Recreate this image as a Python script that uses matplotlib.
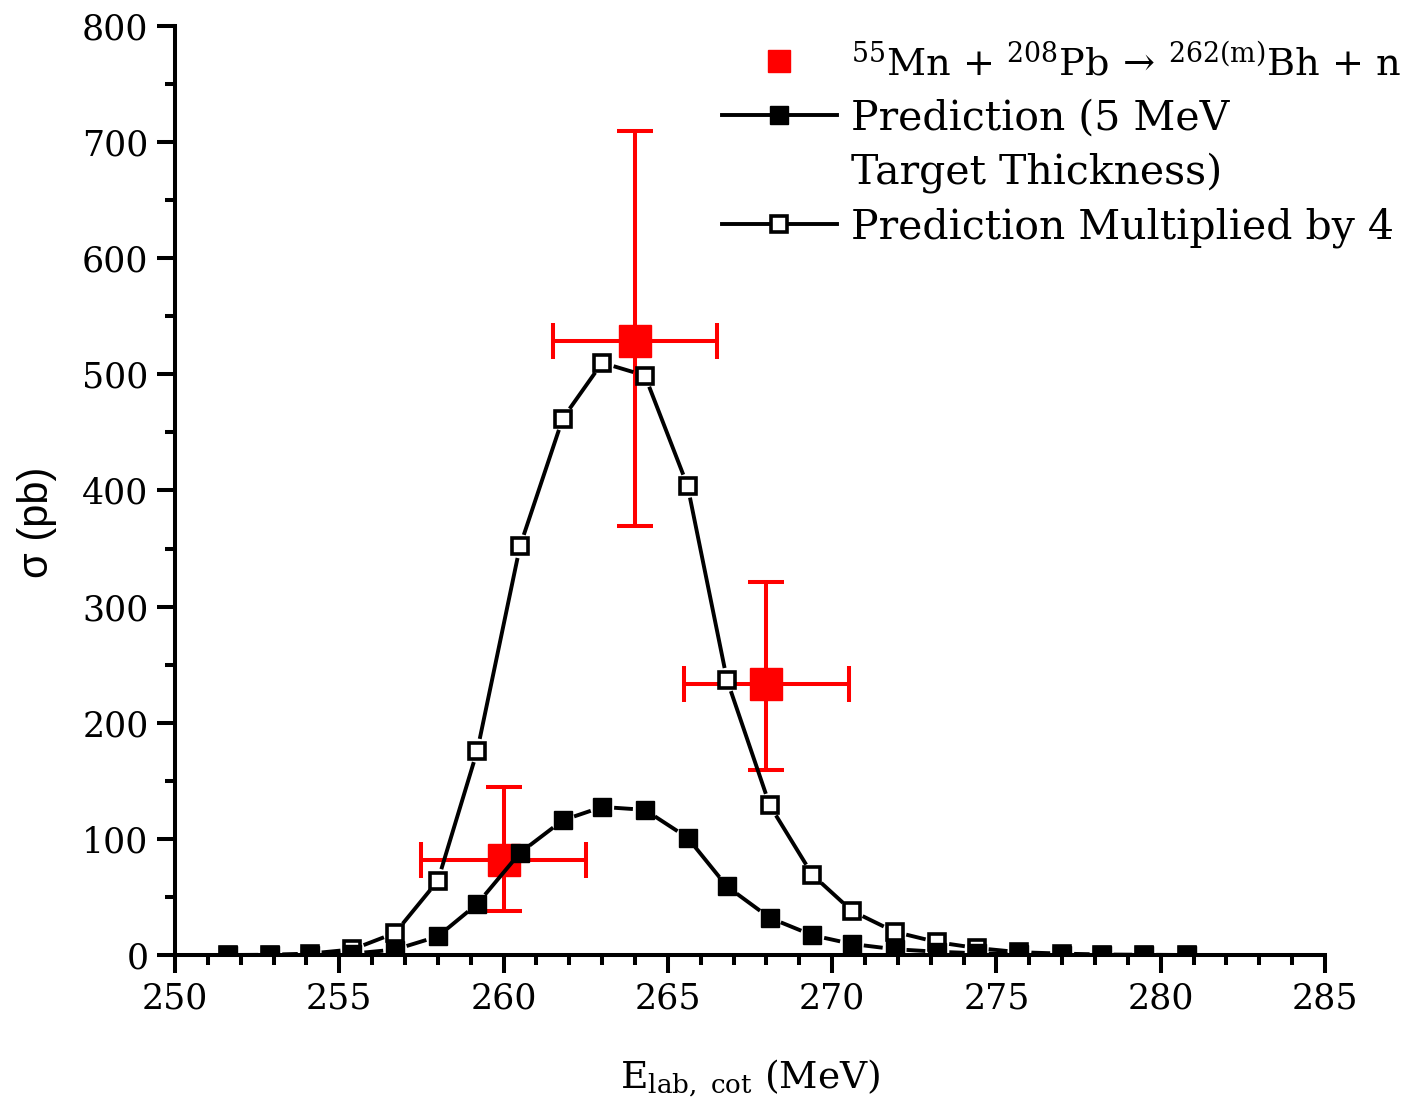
import numpy as np
import matplotlib
matplotlib.use('Agg')
import matplotlib.pyplot as plt
from matplotlib.collections import LineCollection
from matplotlib.lines import Line2D

plt.rcParams['font.family'] = ['DejaVu Serif']
plt.rcParams['mathtext.fontset'] = 'dejavuserif'

# measured cross sections (pb) with asymmetric errors
E_meas = [260.0, 264.0, 268.0]
sig_meas = [82, 529, 233]
sig_err_lo = [44, 160, 74]
sig_err_hi = [63, 181, 88]
E_err = [2.5, 2.5, 2.5]

# predicted excitation function, 5 MeV target thickness
E_pred = [251.6, 252.9, 254.1, 255.4, 256.7, 258.0, 259.2, 260.5, 261.8, 263.0,
          264.3, 265.6, 266.8, 268.1, 269.4, 270.6, 271.9, 273.2, 274.4, 275.7,
          277.0, 278.2, 279.5, 280.8]
sig_pred = [0.0, 0.05, 0.3, 1.2, 4.7, 16, 44, 88, 116, 127.5,
            125, 101, 59, 32, 17, 9.5, 5.0, 2.8, 1.5, 0.6,
            0.3, 0.1, 0.05, 0.0]
# same prediction scaled by 4
sig_pred4 = [0.0, 0.2, 1.2, 4.8, 19, 64, 176, 352, 462, 510,
             499, 404, 237, 129, 69, 38, 20, 11, 6, 2.4,
             1.2, 0.4, 0.2, 0.0]

LW = 2.8

fig = plt.figure(figsize=(14.09, 11.09), dpi=100)
ax = fig.add_axes([175/1409, 1-955/1109, 1150/1409, 929/1109])
ax.set_xlim(250, 285)
ax.set_ylim(0, 800)


def gapped(xs, ys, gap, **kw):
    # connect points with segments that stop short of each marker
    pts = ax.transData.transform(np.column_stack([xs, ys]))
    inv = ax.transData.inverted()
    segs = []
    for p0, p1 in zip(pts[:-1], pts[1:]):
        d = p1 - p0
        L = np.hypot(*d)
        if L <= 2*gap:
            continue
        u = d/L
        segs.append(inv.transform(np.array([p0 + u*gap, p1 - u*gap])))
    ax.add_collection(LineCollection(segs, **kw))


ax.errorbar(E_meas, sig_meas, xerr=E_err, yerr=[sig_err_lo, sig_err_hi],
            fmt='s', color='red', ms=23, mec='red', elinewidth=2.9,
            capsize=13, capthick=2.9, zorder=2)

gapped(E_pred, sig_pred4, 12, colors='black', linewidths=LW, zorder=3)
ax.plot(E_pred, sig_pred4, ls='none', marker='s', ms=11, mfc='white',
        mec='black', mew=2.6, zorder=4)
gapped(E_pred, sig_pred, 12, colors='black', linewidths=LW, zorder=5)
ax.plot(E_pred, sig_pred, ls='none', marker='s', ms=13, color='black',
        zorder=6)

for s in ['top', 'right']:
    ax.spines[s].set_visible(False)
for s in ['left', 'bottom']:
    ax.spines[s].set_linewidth(2.9)

ax.set_xticks(np.arange(250, 286, 5))
ax.set_xticks(np.arange(250, 286, 1), minor=True)
ax.set_yticks(np.arange(0, 801, 100))
ax.set_yticks(np.arange(0, 801, 50), minor=True)
ax.tick_params(which='major', length=13, width=2.9, labelsize=25, pad=6)
ax.tick_params(which='minor', length=7, width=2.9)

ax.set_xlabel(r'E$_{\mathrm{lab,\ cot}}$ (MeV)', fontsize=27, labelpad=30)
ax.set_ylabel('σ (pb)', fontsize=30, family='Liberation Sans')
ax.yaxis.set_label_coords(-0.1026, 0.466)

# second line of the prediction label sits on its own row with no handle
handles = [
    Line2D([], [], ls='none', marker='s', ms=16, color='red'),
    Line2D([], [], color='black', lw=LW, marker='s', ms=13, mfc='black'),
    Line2D([], [], ls='none', marker='none'),
    Line2D([], [], color='black', lw=LW, marker='s', ms=11, mfc='white',
           mec='black', mew=2.6),
]
labels = [r'$^{55}$Mn + $^{208}$Pb$\,\rightarrow\,$$^{\mathrm{262(m)}}$Bh + n',
          'Prediction (5 MeV',
          'Target Thickness)',
          'Prediction Multiplied by 4']
leg = fig.legend(handles, labels, loc='upper left',
                 bbox_to_anchor=(722/1409, 1-44/1109),
                 frameon=False, fontsize=29.5, handlelength=2.8,
                 handletextpad=0.36, labelspacing=0.35, borderpad=0,
                 borderaxespad=0)
leg.get_texts()[0].set_fontsize(27.5)

fig.savefig('out.png', dpi=100)
